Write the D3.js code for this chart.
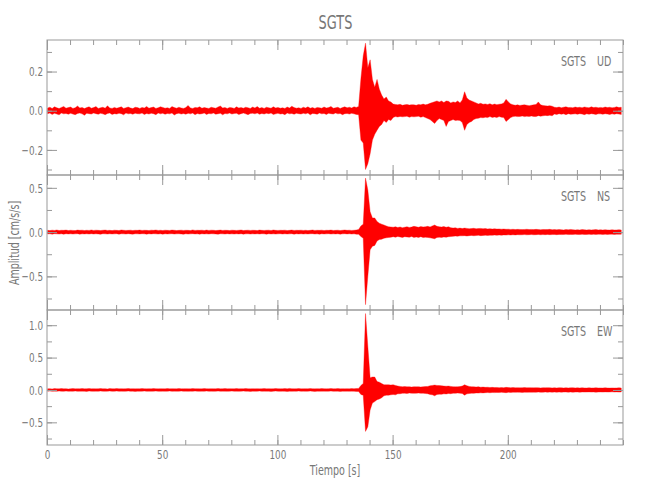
<!DOCTYPE html>
<html><head><meta charset="utf-8">
<script src="https://cdn.jsdelivr.net/npm/d3@7"></script>
<style>
body{margin:0;background:#fff;}
text{font-family:"DejaVu Sans",sans-serif;fill:#777;}
</style></head>
<body><svg id="c" width="650" height="500"></svg>
<script>
// ---- data: per-second envelope (max / min) of each trace ----
const station = "SGTS";
const components = ["UD", "NS", "EW"];
const xTicksMajor = [0, 50, 100, 150, 200];
const udTicks = [-0.2, 0.0, 0.2];
const nsTicks = [-0.5, 0.0, 0.5];
const ewTicks = [-0.5, 0.0, 0.5, 1.0];
const udDomain = [-0.328, 0.361];
const nsDomain = [-0.88, 0.645];
const ewDomain = [-0.85, 1.235];

const udHi = [
.014,.018,.012,.02,.015,.011,.017,.022,.013,.016,
.019,.012,.015,.024,.014,.017,.011,.016,.02,.013,
.016,.021,.012,.015,.018,.013,.025,.014,.012,.017,
.013,.016,.02,.012,.015,.019,.014,.011,.018,.016,
.012,.017,.014,.022,.013,.016,.019,.012,.015,.02,
.017,.013,.015,.012,.021,.016,.013,.018,.014,.012,
.016,.027,.014,.012,.017,.015,.02,.013,.016,.014,
.012,.018,.015,.013,.019,.024,.014,.016,.012,.017,
.015,.012,.02,.014,.016,.013,.018,.015,.012,.019,
.014,.021,.013,.016,.012,.018,.015,.013,.02,.014,
.017,.013,.015,.012,.019,.014,.023,.016,.013,.015,
.012,.018,.014,.02,.013,.016,.012,.017,.015,.013,
.019,.014,.016,.022,.013,.015,.018,.012,.016,.02,
.015,.018,.014,.02,.017,.022,.165,.28,.345,.22,
.26,.16,.12,.16,.11,.08,.06,.07,.05,.045,
.034,.032,.03,.033,.028,.03,.032,.029,.031,.03,
.028,.032,.03,.034,.03,.033,.038,.042,.046,.05,
.045,.05,.042,.05,.048,.04,.045,.042,.05,.04,
.055,.097,.065,.055,.05,.045,.04,.035,.038,.033,
.035,.032,.036,.03,.034,.031,.033,.035,.04,.058,
.045,.035,.03,.028,.03,.027,.029,.03,.028,.026,
.028,.03,.032,.045,.03,.027,.025,.024,.026,.023,
.018,.016,.019,.015,.018,.02,.016,.017,.015,.019,
.016,.018,.015,.019,.017,.015,.02,.016,.018,.015,
.017,.015,.019,.016,.018,.015,.017,.02,.016,.018];
const udLo = [
-.015,-.012,-.019,-.013,-.017,-.021,-.012,-.016,-.014,-.018,
-.013,-.017,-.02,-.014,-.012,-.016,-.023,-.013,-.015,-.017,
-.012,-.015,-.018,-.013,-.016,-.02,-.014,-.012,-.019,-.015,
-.017,-.013,-.015,-.021,-.012,-.016,-.014,-.018,-.013,-.015,
-.016,-.012,-.019,-.014,-.017,-.013,-.015,-.02,-.012,-.016,
-.013,-.018,-.014,-.016,-.012,-.022,-.015,-.013,-.017,-.014,
-.018,-.013,-.016,-.012,-.02,-.014,-.017,-.015,-.012,-.019,
-.014,-.016,-.012,-.018,-.015,-.013,-.021,-.014,-.016,-.012,
-.017,-.014,-.013,-.019,-.015,-.012,-.016,-.02,-.014,-.013,
-.016,-.012,-.018,-.014,-.017,-.013,-.015,-.012,-.019,-.016,
-.013,-.017,-.015,-.02,-.012,-.016,-.014,-.018,-.013,-.015,
-.017,-.013,-.016,-.012,-.021,-.014,-.015,-.018,-.012,-.016,
-.014,-.019,-.013,-.015,-.017,-.012,-.016,-.014,-.02,-.015,
-.014,-.017,-.013,-.016,-.019,-.02,-.15,-.165,-.30,-.27,
-.22,-.15,-.12,-.1,-.08,-.07,-.05,-.06,-.045,-.05,
-.034,-.03,-.032,-.029,-.031,-.03,-.028,-.033,-.03,-.031,
-.03,-.028,-.033,-.03,-.035,-.04,-.045,-.055,-.065,-.05,
-.04,-.045,-.05,-.08,-.055,-.05,-.045,-.05,-.048,-.05,
-.06,-.1,-.07,-.06,-.055,-.045,-.04,-.038,-.035,-.036,
-.033,-.035,-.03,-.034,-.032,-.035,-.03,-.033,-.035,-.055,
-.045,-.035,-.03,-.028,-.03,-.029,-.027,-.03,-.028,-.029,
-.027,-.029,-.03,-.025,-.028,-.026,-.024,-.025,-.023,-.026,
-.017,-.019,-.015,-.018,-.016,-.02,-.015,-.018,-.017,-.016,
-.018,-.015,-.017,-.02,-.016,-.018,-.015,-.017,-.019,-.016,
-.016,-.018,-.015,-.017,-.019,-.016,-.018,-.015,-.017,-.019];

const nsHi = [
.02,.017,.022,.019,.024,.018,.021,.02,.023,.018,
.021,.019,.017,.023,.02,.022,.018,.021,.019,.024,
.019,.022,.02,.018,.021,.023,.019,.02,.017,.022,
.02,.018,.024,.021,.019,.02,.022,.018,.021,.02,
.023,.019,.021,.02,.018,.022,.02,.024,.019,.021,
.018,.022,.02,.019,.023,.021,.018,.02,.022,.019,
.021,.02,.018,.025,.019,.021,.02,.022,.018,.023,
.019,.022,.021,.018,.02,.023,.019,.021,.02,.018,
.022,.02,.019,.021,.024,.018,.02,.022,.019,.021,
.02,.018,.023,.02,.019,.021,.022,.018,.024,.02,
.019,.021,.02,.022,.018,.02,.023,.019,.021,.02,
.022,.019,.021,.018,.02,.024,.019,.021,.02,.022,
.018,.021,.02,.023,.019,.02,.022,.018,.021,.024,
.02,.022,.019,.021,.024,.03,.07,.09,.61,.475,
.23,.16,.16,.12,.1,.09,.08,.07,.06,.058,
.055,.06,.052,.058,.05,.055,.06,.053,.057,.065,
.06,.055,.062,.058,.06,.065,.058,.07,.08,.065,
.06,.058,.062,.055,.06,.05,.045,.048,.042,.045,
.04,.045,.042,.038,.04,.043,.037,.04,.042,.038,
.04,.036,.038,.035,.037,.034,.036,.033,.035,.032,
.033,.03,.032,.029,.031,.03,.028,.03,.032,.029,
.03,.028,.031,.029,.027,.03,.028,.029,.031,.027,
.028,.026,.029,.027,.025,.028,.026,.03,.027,.025,
.027,.025,.028,.026,.024,.027,.025,.026,.028,.025,
.026,.024,.027,.025,.023,.026,.024,.025,.027,.024];
const nsLo = [
-.021,-.019,-.023,-.018,-.02,-.022,-.019,-.024,-.018,-.021,
-.019,-.022,-.02,-.018,-.023,-.02,-.021,-.019,-.022,-.018,
-.022,-.019,-.021,-.024,-.018,-.02,-.022,-.019,-.021,-.02,
-.018,-.023,-.019,-.02,-.022,-.018,-.021,-.023,-.019,-.02,
-.021,-.018,-.02,-.023,-.019,-.021,-.018,-.02,-.022,-.019,
-.023,-.019,-.021,-.02,-.018,-.022,-.02,-.019,-.021,-.024,
-.019,-.022,-.02,-.018,-.021,-.02,-.023,-.019,-.021,-.02,
-.022,-.018,-.02,-.021,-.023,-.019,-.02,-.022,-.018,-.021,
-.02,-.022,-.019,-.021,-.018,-.023,-.02,-.019,-.022,-.02,
-.021,-.019,-.022,-.018,-.02,-.023,-.019,-.021,-.02,-.022,
-.02,-.018,-.022,-.019,-.021,-.02,-.018,-.023,-.019,-.021,
-.019,-.022,-.02,-.021,-.019,-.018,-.022,-.02,-.023,-.019,
-.021,-.02,-.018,-.022,-.02,-.021,-.019,-.023,-.02,-.018,
-.021,-.019,-.022,-.02,-.023,-.025,-.05,-.07,-.82,-.5,
-.2,-.16,-.15,-.1,-.085,-.08,-.07,-.065,-.06,-.058,
-.052,-.058,-.05,-.055,-.06,-.052,-.055,-.058,-.05,-.06,
-.055,-.06,-.052,-.062,-.058,-.06,-.065,-.07,-.075,-.06,
-.058,-.06,-.055,-.058,-.052,-.05,-.048,-.045,-.046,-.042,
-.042,-.04,-.044,-.04,-.038,-.041,-.039,-.037,-.04,-.038,
-.036,-.038,-.035,-.037,-.034,-.036,-.033,-.035,-.032,-.034,
-.031,-.033,-.03,-.032,-.029,-.031,-.03,-.028,-.031,-.029,
-.028,-.03,-.029,-.027,-.03,-.028,-.029,-.027,-.029,-.028,
-.027,-.029,-.026,-.028,-.027,-.025,-.028,-.026,-.027,-.025,
-.026,-.028,-.025,-.027,-.026,-.024,-.027,-.025,-.026,-.024,
-.025,-.027,-.024,-.026,-.025,-.023,-.026,-.024,-.025,-.024];

const ewHi = [
.018,.02,.016,.021,.019,.017,.022,.018,.02,.016,
.019,.021,.017,.02,.018,.022,.017,.019,.021,.018,
.02,.017,.019,.022,.018,.02,.016,.021,.019,.018,
.021,.018,.02,.017,.019,.022,.018,.02,.017,.019,
.018,.021,.019,.017,.02,.018,.022,.019,.017,.02,
.019,.017,.021,.018,.02,.019,.017,.022,.018,.019,
.02,.018,.017,.021,.019,.02,.018,.017,.021,.019,
.017,.02,.019,.018,.022,.017,.019,.021,.018,.02,
.019,.018,.021,.017,.02,.019,.022,.018,.017,.02,
.018,.02,.017,.019,.021,.018,.02,.017,.019,.022,
.02,.018,.019,.021,.017,.024,.02,.018,.019,.021,
.017,.019,.02,.018,.021,.019,.017,.02,.018,.021,
.019,.017,.02,.022,.018,.019,.021,.017,.02,.018,
.02,.018,.021,.019,.022,.024,.07,.1,1.18,.67,
.19,.2,.2,.13,.12,.1,.08,.08,.08,.075,
.08,.07,.06,.055,.05,.052,.048,.05,.045,.05,
.048,.05,.046,.05,.052,.055,.065,.07,.075,.07,
.068,.065,.06,.058,.06,.055,.05,.048,.05,.052,
.06,.08,.065,.055,.05,.048,.045,.05,.042,.045,
.04,.042,.038,.04,.037,.039,.036,.038,.035,.04,
.037,.035,.038,.034,.036,.033,.035,.037,.034,.036,
.035,.033,.036,.034,.032,.035,.033,.036,.034,.032,
.034,.032,.035,.033,.031,.034,.032,.033,.035,.032,
.033,.031,.034,.032,.03,.033,.031,.032,.034,.031,
.032,.03,.033,.031,.029,.032,.03,.031,.033,.03];
const ewLo = [
-.019,-.017,-.021,-.018,-.02,-.016,-.019,-.021,-.017,-.02,
-.018,-.02,-.017,-.021,-.019,-.018,-.02,-.022,-.017,-.019,
-.021,-.018,-.02,-.017,-.019,-.021,-.018,-.017,-.02,-.019,
-.017,-.02,-.018,-.021,-.019,-.017,-.02,-.018,-.022,-.019,
-.02,-.018,-.017,-.021,-.019,-.02,-.018,-.017,-.02,-.021,
-.018,-.02,-.019,-.017,-.021,-.018,-.02,-.019,-.017,-.02,
-.019,-.021,-.018,-.02,-.017,-.019,-.021,-.018,-.02,-.017,
-.02,-.018,-.021,-.019,-.017,-.02,-.018,-.019,-.021,-.018,
-.017,-.02,-.019,-.021,-.018,-.017,-.02,-.019,-.022,-.018,
-.02,-.019,-.017,-.021,-.018,-.02,-.019,-.022,-.018,-.017,
-.019,-.021,-.018,-.02,-.023,-.019,-.021,-.018,-.02,-.017,
-.02,-.018,-.021,-.019,-.017,-.02,-.022,-.018,-.02,-.019,
-.018,-.02,-.019,-.017,-.021,-.02,-.018,-.022,-.019,-.02,
-.019,-.021,-.018,-.02,-.022,-.024,-.07,-.08,-.64,-.57,
-.31,-.2,-.18,-.15,-.14,-.12,-.09,-.08,-.08,-.075,
-.07,-.075,-.06,-.058,-.052,-.05,-.055,-.048,-.05,-.052,
-.05,-.048,-.052,-.05,-.055,-.058,-.07,-.075,-.09,-.07,
-.065,-.068,-.06,-.062,-.055,-.058,-.05,-.052,-.048,-.05,
-.055,-.08,-.06,-.055,-.05,-.052,-.046,-.048,-.044,-.045,
-.042,-.04,-.043,-.039,-.041,-.038,-.04,-.037,-.039,-.042,
-.036,-.038,-.035,-.037,-.034,-.036,-.038,-.035,-.037,-.034,
-.036,-.034,-.035,-.033,-.036,-.034,-.032,-.035,-.033,-.034,
-.033,-.035,-.032,-.034,-.033,-.031,-.034,-.032,-.035,-.033,
-.032,-.034,-.031,-.033,-.032,-.03,-.033,-.031,-.034,-.032,
-.031,-.033,-.03,-.032,-.031,-.029,-.032,-.03,-.033,-.031];

// ---- layout ----
const svg = d3.select("#c");
const L = 47, R = 623;
const SX = 0.68; // horizontal squeeze to mimic the narrow plotting font
const panels = [
  {comp: "UD", hi: udHi, lo: udLo, domain: udDomain, ticks: udTicks, minor: 0.1, top: 40, bot: 175},
  {comp: "NS", hi: nsHi, lo: nsLo, domain: nsDomain, ticks: nsTicks, minor: 0.25, top: 175, bot: 310},
  {comp: "EW", hi: ewHi, lo: ewLo, domain: ewDomain, ticks: ewTicks, minor: 0.25, top: 310, bot: 445}
];
const x = d3.scaleLinear().domain([0, 250]).range([L, R]);
const axisColor = "#999";
const xMinor = d3.range(0, 251, 10);

function label(tx, ty, str, size, anchor, rot) {
  return svg.append("text")
    .attr("transform", `translate(${tx},${ty})` + (rot ? ` rotate(${rot})` : "") + ` scale(${SX},1)`)
    .attr("text-anchor", anchor).attr("font-size", size).text(str);
}

panels.forEach((p, pi) => {
  const y = d3.scaleLinear().domain(p.domain).range([p.bot, p.top]);
  const g = svg.append("g");
  // trace envelope (max/min per second)
  const area = d3.area().x((d, i) => x(i + 0.25)).y0((d, i) => y(p.lo[i])).y1(d => y(d));
  g.append("path").attr("d", area(p.hi)).attr("fill", "#ff0000")
    .attr("stroke", "#ff0000").attr("stroke-width", 0.5).attr("stroke-opacity", 0.7);

  // frame
  g.append("rect").attr("x", L).attr("y", p.top).attr("width", R - L).attr("height", p.bot - p.top)
    .attr("fill", "none").attr("stroke", axisColor).attr("stroke-width", 1);

  const yMin = [];
  for (let v = Math.ceil(p.domain[0] / p.minor) * p.minor; v <= p.domain[1] + 1e-9; v += p.minor) yMin.push(+v.toFixed(3));
  const styleAxis = sel => { sel.select(".domain").remove(); sel.selectAll("line").attr("stroke", axisColor); };

  const lblX = pi === 2;
  g.append("g").attr("transform", `translate(0,${p.bot})`)
    .call(d3.axisBottom(x).tickValues(xMinor).tickSize(-5).tickFormat("")).call(styleAxis);
  g.append("g").attr("class", "xlab").attr("transform", `translate(0,${p.bot})`)
    .call(d3.axisBottom(x).tickValues(xTicksMajor).tickSize(-10).tickPadding(5)
      .tickFormat(lblX ? d3.format("d") : "")).call(styleAxis);
  g.append("g").attr("transform", `translate(0,${p.top})`)
    .call(d3.axisTop(x).tickValues(xMinor).tickSize(-5).tickFormat("")).call(styleAxis);
  g.append("g").attr("transform", `translate(0,${p.top})`)
    .call(d3.axisTop(x).tickValues(xTicksMajor).tickSize(-10).tickFormat("")).call(styleAxis);
  g.append("g").attr("transform", `translate(${L},0)`)
    .call(d3.axisLeft(y).tickValues(yMin).tickSize(-5).tickFormat("")).call(styleAxis);
  g.append("g").attr("class", "ylab").attr("transform", `translate(${L},0)`)
    .call(d3.axisLeft(y).tickValues(p.ticks).tickSize(-10).tickPadding(2).tickFormat(d3.format(".1f"))).call(styleAxis);
  g.append("g").attr("transform", `translate(${R},0)`)
    .call(d3.axisRight(y).tickValues(yMin).tickSize(-5).tickFormat("")).call(styleAxis);
  g.append("g").attr("transform", `translate(${R},0)`)
    .call(d3.axisRight(y).tickValues(p.ticks).tickSize(-10).tickFormat("")).call(styleAxis);

  label(561, p.top + 26, station, 14, "start");
  label(597, p.top + 26, p.comp, 14, "start");
});

svg.selectAll(".tick text").attr("fill", "#777").attr("font-size", 13)
  .attr("font-family", '"DejaVu Sans",sans-serif');
svg.selectAll(".ylab .tick text").attr("transform", `translate(-2,0) scale(${SX},1)`).attr("x", -2 / SX);
svg.selectAll(".xlab .tick text").attr("transform", `scale(${SX},1)`);

label(335.5, 29, station, 19, "middle");
label(335, 475, "Tiempo [s]", 14, "middle");
label(19, 243, "Amplitud [cm/s/s]", 14, "middle", -90);
</script></body></html>
